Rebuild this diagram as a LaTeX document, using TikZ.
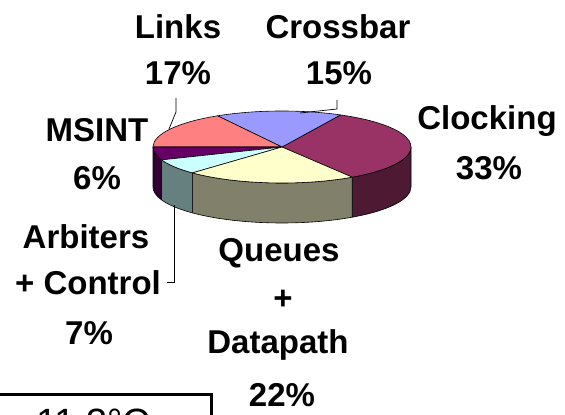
\documentclass[tikz,border=0pt]{standalone}
\usepackage{fontspec}
\setmainfont{Liberation Sans}
\newcommand\cxv{282}
\newcommand\cyv{268}
\newcommand\rxv{129}
\newcommand\ryv{36}
\newcommand\ddv{40}
\newcommand\pieside[3]{%
  \filldraw[fill=#3,slice] ({\cxv+\rxv*cos(#1)},{\cyv+\ryv*sin(#1)})
    arc[start angle=#1,end angle=#2,x radius=\rxv pt,y radius=\ryv pt]
    -- ++(0,-\ddv)
    arc[start angle=#2,end angle=#1,x radius=\rxv pt,y radius=\ryv pt] -- cycle;}
\newcommand\pietop[3]{%
  \filldraw[fill=#3,slice] (\cxv,\cyv) -- ({\cxv+\rxv*cos(#1)},{\cyv+\ryv*sin(#1)})
    arc[start angle=#1,end angle=#2,x radius=\rxv pt,y radius=\ryv pt] -- cycle;}
\definecolor{clockT}{HTML}{993366}
\definecolor{clockS}{HTML}{4D1933}
\definecolor{crossT}{HTML}{9999FF}
\definecolor{linksT}{HTML}{FF8080}
\definecolor{msintT}{HTML}{660066}
\definecolor{msintS}{HTML}{330033}
\definecolor{arbT}{HTML}{CCFFFF}
\definecolor{arbS}{HTML}{668080}
\definecolor{queT}{HTML}{FFFFCC}
\definecolor{queS}{HTML}{80806B}
\begin{document}
\begin{tikzpicture}[x=1pt,y=1pt,
  slice/.style={draw=black,line width=0.6pt,line join=round},
  lbl/.style={font=\fontsize{33}{47}\selectfont\bfseries,anchor=base,inner sep=0pt},
  leader/.style={draw=black,line width=0.7pt}]
\useasboundingbox (0,0) rectangle (565,415);
% sides
\pieside{-57}{0}{clockS}
\pieside{226}{303}{queS}
\pieside{201}{226}{arbS}
\pieside{180}{201}{msintS}
% tops
\pietop{-57}{63}{clockT}
\pietop{63}{120}{crossT}
\pietop{120}{180}{linksT}
\pietop{180}{201}{msintT}
\pietop{201}{226}{arbT}
\pietop{226}{303}{queT}
% labels
\node[lbl] (links) at (178,376) {Links};
\node[lbl] (linksp) at (178,330) {17\%};
\node[lbl] (cross) at (338,376) {Crossbar};
\node[lbl] (crossp) at (339,330) {15\%};
\node[lbl] (clock) at (487,285) {Clocking};
\node[lbl] (clockp) at (489,235) {33\%};
\node[lbl] (msint) at (97,273) {MSINT};
\node[lbl] (msintp) at (97,225) {6\%};
\node[lbl] (arb) at (86,166) {Arbiters};
\node[lbl] (arbc) at (88,120) {+ Control};
\node[lbl] (arbp) at (89,70) {7\%};
\node[lbl] (que) at (279,153) {Queues};
\node[lbl] (quep) at (283,105) {+};
\node[lbl] (dp) at (278,61) {Datapath};
\node[lbl] (dpp) at (282,8) {22\%};
% leaders
\coordinate (l1) at (176,317);
\coordinate (l1e) at (169,286);
\draw[leader] (l1) -- (176,303) -- (l1e);
\coordinate (c1) at (337,315);
\coordinate (c1e) at (300,302);
\draw[leader] (c1) -- (337,306) -- (c1e);
\coordinate (a1) at (174,210);
\coordinate (a1e) at (167,133);
\draw[leader] (a1) -- (174,133) -- (a1e);
% bottom box
\coordinate (b0) at (-2,20);
\coordinate (b1) at (211,20);
\coordinate (b2) at (211,-2);
\draw[line width=3pt] (b0) -- (b1) -- (b2);
\begin{scope}
\clip (0,0) rectangle (209,18.5);
\node[anchor=base west,inner sep=0pt,font=\fontsize{38}{44}\selectfont] (boxtext) at (36,-20) {11.3°C};
\end{scope}
\end{tikzpicture}
\end{document}
